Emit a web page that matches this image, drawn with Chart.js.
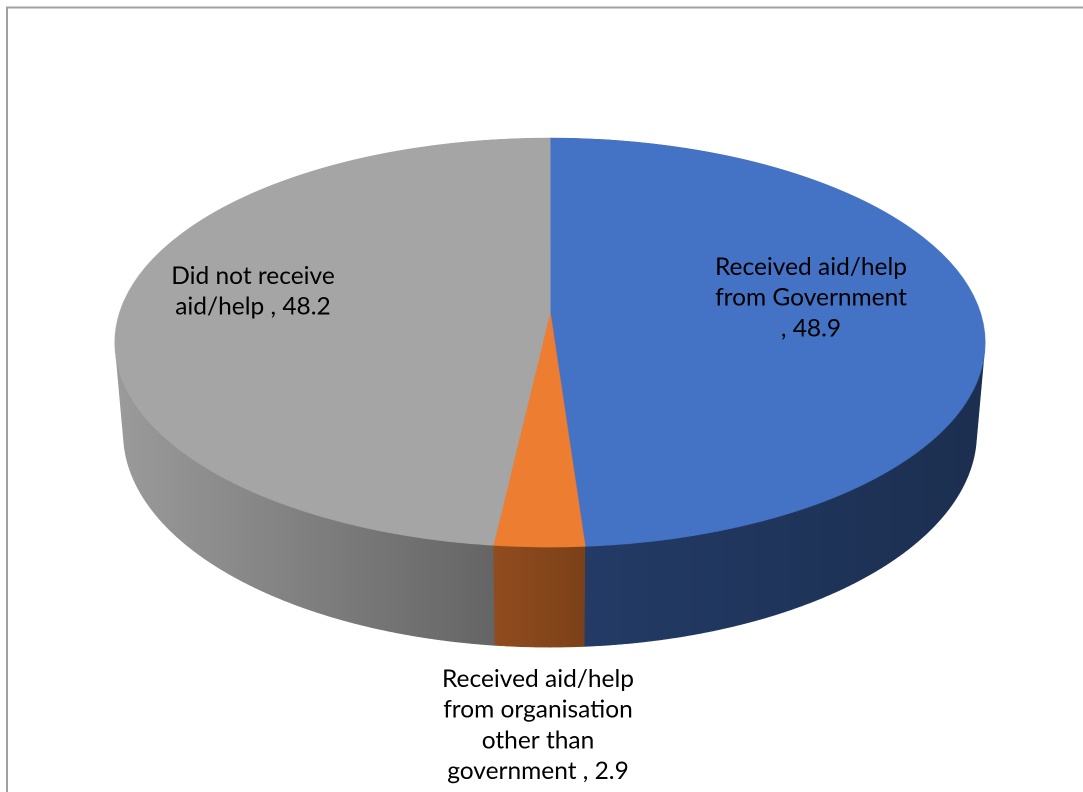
<!DOCTYPE html>
<html><head><meta charset="utf-8">
<script src="https://cdn.jsdelivr.net/npm/chart.js@4/dist/chart.umd.min.js"></script>
<style>html,body{margin:0;padding:0;background:#fff;overflow:hidden}canvas{display:block}</style>
</head><body>
<canvas id="c" width="1083" height="792" style="width:1083px;height:792px"></canvas>
<script>
// ---- data ----
const categories = [
  'Received aid/help from Government',
  'Received aid/help from organisation other than government',
  'Did not receive aid/help'
];
const values = [48.9, 2.9, 48.2];
const sliceColors = ['#4472c4', '#ed7d31', '#a5a5a5'];

// ---- 3D view (perspective) ----
const view = { cx: 550, cy: 312, A: 430, B: 200, c: 0.149, H: 0.2404 };
const sinT = view.B / view.A, cosT = Math.sqrt(1 - sinT * sinT);
const camD = cosT / view.c, camF = view.A * camD;
const limb = Math.asin(Math.min(1, 1 / (camD * cosT)));
function proj(u, v, z) {
  const depth = camD - v * cosT - z * sinT;
  return [view.cx + camF * u / depth, view.cy + camF * (v * sinT - z * cosT) / depth];
}
// side shading factor along x
const shadeStops = [[115, 0.94], [495, 0.61], [585, 0.52], [985, 0.41]];
const labelLayout = [
  { x: 811, y: 275, wrap: 197 },
  { x: 538, y: 687, wrap: 220 },
  { x: 253, y: 284, wrap: 230 }
];
const labelFont = '24.5px Lato';
const lineH = 30.7;

function hexRgb(h) { const n = parseInt(h.slice(1), 16); return [(n >> 16) & 255, (n >> 8) & 255, n & 255]; }

function sideGradient(ctx, i) {
  const x0 = 115, x1 = 985;
  const g = ctx.createLinearGradient(x0, 0, x1, 0);
  const [r, gg, b] = hexRgb(sliceColors[i]);
  shadeStops.forEach(([x, f]) => {
    g.addColorStop((x - x0) / (x1 - x0), `rgb(${Math.round(r * f)},${Math.round(gg * f)},${Math.round(b * f)})`);
  });
  return g;
}

function drawSide(ctx, a, b, i) {
  const n = Math.max(4, Math.ceil((b - a) / 0.005));
  ctx.beginPath();
  for (let j = 0; j <= n; j++) {
    const t = a + (b - a) * j / n;
    const p = proj(Math.cos(t), Math.sin(t), 0);
    j ? ctx.lineTo(p[0], p[1]) : ctx.moveTo(p[0], p[1]);
  }
  for (let j = n; j >= 0; j--) {
    const t = a + (b - a) * j / n;
    const p = proj(Math.cos(t), Math.sin(t), -view.H);
    ctx.lineTo(p[0], p[1]);
  }
  ctx.closePath();
  const g = sideGradient(ctx, i);
  ctx.fillStyle = g;
  ctx.strokeStyle = g;
  ctx.lineWidth = 0.6;
  ctx.fill();
  ctx.stroke();
}

function wrapText(ctx, text, maxW) {
  const words = text.split(' ');
  const lines = [];
  let cur = '';
  words.forEach(w => {
    const t = cur ? cur + ' ' + w : w;
    if (cur && ctx.measureText(t).width > maxW) { lines.push(cur); cur = w; }
    else cur = t;
  });
  if (cur) lines.push(cur);
  return lines;
}

const pie3d = {
  id: 'pie3d',
  afterDatasetsDraw(chart) {
    const ctx = chart.ctx;
    const canvas = chart.canvas;
    const k = canvas.width / chart.width;
    const arcs = chart.getDatasetMeta(0).data;
    const a0 = arcs[0];
    const R = a0.outerRadius;

    // copy the flat pie drawn by Chart.js
    const off = document.createElement('canvas');
    off.width = canvas.width; off.height = canvas.height;
    off.getContext('2d').drawImage(canvas, 0, 0);

    ctx.save();
    ctx.setTransform(1, 0, 0, 1, 0, 0);
    ctx.clearRect(0, 0, canvas.width, canvas.height);
    ctx.restore();

    // background + frame
    ctx.save();
    ctx.fillStyle = '#ffffff';
    ctx.fillRect(0, 0, chart.width, chart.height);
    ctx.strokeStyle = '#a0a0a0';
    ctx.lineWidth = 2;
    ctx.beginPath();
    ctx.moveTo(7, chart.height);
    ctx.lineTo(7, 7.5);
    ctx.lineTo(chart.width, 7.5);
    ctx.stroke();
    ctx.restore();

    // side walls (visible front part) from arc angles
    ctx.save();
    arcs.forEach((arc, i) => {
      const s = arc.startAngle, e = arc.endAngle;
      [-2 * Math.PI, 0, 2 * Math.PI].forEach(kk => {
        const a = Math.max(s, kk + limb), b = Math.min(e, kk + Math.PI - limb);
        if (b > a) drawSide(ctx, a, b, i);
      });
    });
    ctx.restore();

    // top face: perspective-warp the flat pie row by row
    ctx.save();
    ctx.setTransform(1, 0, 0, 1, 0, 0);
    ctx.imageSmoothingEnabled = true;
    ctx.imageSmoothingQuality = 'high';
    const yTop = view.cy - view.B / (1 + view.c), yBot = view.cy + view.B / (1 - view.c);
    const pad = 2;
    const vOf = yc => { const dy = yc - view.cy; return dy / (view.B + view.c * dy); };
    for (let yd = Math.floor(yTop * k) - 2; yd <= Math.ceil(yBot * k) + 2; yd++) {
      const yc = (yd + 0.5) / k;
      const v = vOf(yc);
      if (v < -1.02 || v > 1.02) continue;
      const dv = Math.abs(vOf(yc + 0.5 / k) - vOf(yc - 0.5 / k));
      const sh = Math.max(1, dv * R * k);
      const s = view.A / (1 - view.c * v);
      const sy = (a0.y + v * R) * k;
      const half = s * (R + pad) / R;
      ctx.drawImage(off, (a0.x - R - pad) * k, sy - sh / 2, 2 * (R + pad) * k, sh,
        (view.cx - half) * k, yd, 2 * half * k, 1);
    }
    ctx.restore();
  },
  afterDraw(chart) {
    const ctx = chart.ctx;
    ctx.save();
    ctx.font = labelFont;
    ctx.fillStyle = '#000000';
    ctx.textAlign = 'center';
    ctx.textBaseline = 'alphabetic';
    chart.data.labels.forEach((lab, i) => {
      const v = chart.data.datasets[0].data[i];
      const L = labelLayout[i];
      const lines = wrapText(ctx, lab + ' , ' + v.toFixed(1), L.wrap);
      lines.forEach((ln, j) => ctx.fillText(ln, L.x, L.y + j * lineH));
    });
    ctx.restore();
  }
};

new Chart(document.getElementById('c'), {
  type: 'pie',
  data: {
    labels: categories,
    datasets: [{
      data: values,
      backgroundColor: sliceColors,
      borderColor: sliceColors,
      borderWidth: 1,
      clip: false
    }]
  },
  options: {
    responsive: false,
    devicePixelRatio: 2,
    animation: false,
    events: [],
    layout: { padding: 0 },
    plugins: { legend: { display: false }, tooltip: { enabled: false } }
  },
  plugins: [pie3d]
});
</script>
</body></html>
